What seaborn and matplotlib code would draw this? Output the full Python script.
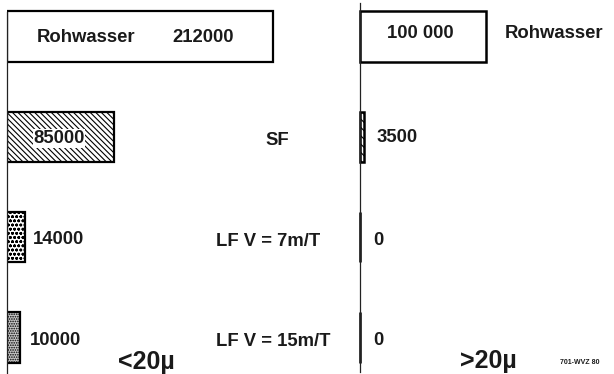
import seaborn as sns
import matplotlib.pyplot as plt
import pandas as pd

# Daten (Partikelzahlen)
stufen = ['Rohwasser', 'SF', 'LF V = 7m/T', 'LF V = 15m/T']
klein = [212000, 85000, 14000, 10000]   # < 20 µ
gross = [100000, 3500, 0, 0]            # > 20 µ
label_klein = ['212000', '85000', '14000', '10000']
label_gross = ['100 000', '3500', '0', '0']

sns.set_style('white')
plt.rcParams['font.family'] = ['Liberation Sans', 'DejaVu Sans']
plt.rcParams['font.weight'] = 'bold'
plt.rcParams['hatch.linewidth'] = 0.8

W, H = 614, 374
fig = plt.figure(figsize=(W / 100, H / 100), dpi=100)

px = 1.255e-3  # pixel pro Partikel
ax1 = fig.add_axes([7 / W, 0, 343 / W, 1])
ax2 = fig.add_axes([360 / W, 0, 254 / W, 1])

df = pd.DataFrame({'stufe': stufen, 'klein': klein, 'gross': gross})

sns.barplot(x='klein', y='stufe', data=df, orient='h', color='white',
            edgecolor='black', linewidth=1.6, width=0.5, ax=ax1)
sns.barplot(x='gross', y='stufe', data=df, orient='h', color='white',
            edgecolor='black', linewidth=1.8, width=0.5, ax=ax2)

# Schraffuren
muster = [(None, 'white'), ('\\\\\\\\\\\\', 'white'), ('oooo', 'white'), ('.......', '#c8c8c8')]
for p, (h, fc) in zip(ax1.patches, muster):
    p.set_hatch(h)
    p.set_facecolor(fc)
ax2.patches[1].set_hatch('\\\\\\\\')
for p in ax2.patches:
    p.set_clip_on(False)

ylim = (3 + 36.5 / 100.3, -36.5 / 100.3)
for ax, breite in [(ax1, 343), (ax2, 254)]:
    ax.set_xlim(0, breite / px)
    ax.set_ylim(*ylim)
    ax.set_xlabel('')
    ax.set_ylabel('')
    ax.set_xticks([])
    ax.set_yticks([])
    ax.patch.set_alpha(0)
    for s in ['top', 'right', 'bottom']:
        ax.spines[s].set_visible(False)
    ax.spines['left'].set_linewidth(0.9)
    ax.spines['left'].set_color('#222222')
ax1.spines['left'].set_bounds(3.364, -0.244)
ax2.spines['left'].set_bounds(3.34, -0.334)


def txt(x, y, s, size=13.3, **kw):
    fig.text(x / W, 1 - y / H, s, fontsize=size, fontweight='bold',
             color='#1a1a1a', va='baseline', **kw)


# linke Seite
txt(37, 42, 'Rohwasser')
txt(172, 42, label_klein[0])
txt(59, 143, label_klein[1], ha='center',
    bbox=dict(facecolor='white', edgecolor='none', pad=0.5))
txt(33, 244, label_klein[2])
txt(30, 345, label_klein[3])

txt(277, 145, stufen[1], ha='center')
txt(216, 246, stufen[2])
txt(216, 346, stufen[3])

# rechte Seite
txt(387, 38, label_gross[0])
txt(505, 38, stufen[0])
txt(377, 142, label_gross[1])
txt(373, 245, label_gross[2])
txt(373, 345, label_gross[3])

txt(118, 369, '<20µ', size=18)
txt(460, 368, '>20µ', size=18)
txt(560, 364, '701-WVZ 80', size=5)

fig.savefig('out.png', dpi=100)
